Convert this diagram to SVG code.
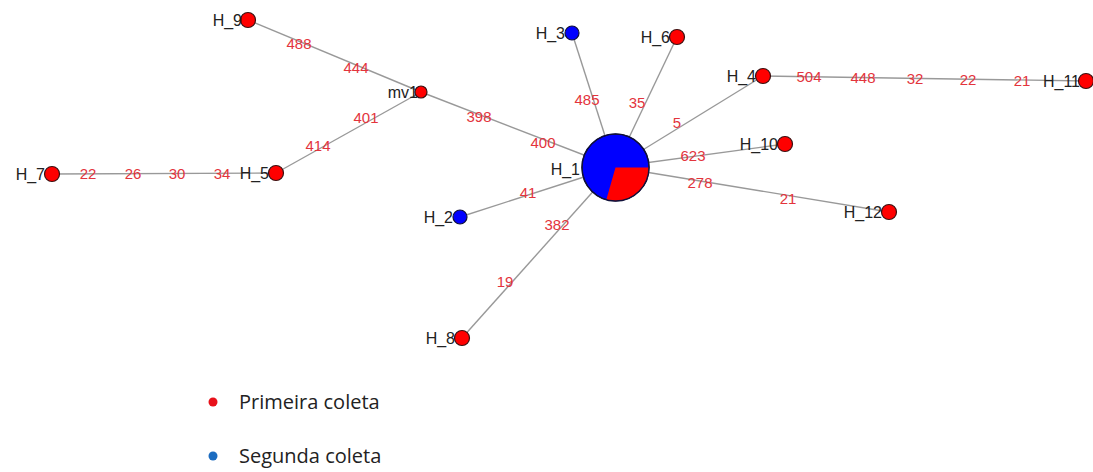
<svg xmlns="http://www.w3.org/2000/svg" width="1093" height="472" viewBox="0 0 1093 472">
<style>
.e{stroke:#999;stroke-width:1.4;fill:none}
.r{fill:#f00;stroke:#3a1010;stroke-width:1.2}
.b{fill:#00f;stroke:#10103a;stroke-width:1.2}
.nl{font-family:"Liberation Sans",Arial,sans-serif;font-size:16px;fill:#222;text-anchor:end}
.el{font-family:"Liberation Sans",Arial,sans-serif;font-size:15px;fill:#e3343c;text-anchor:middle}
.lg{font-family:"Open Sans","Liberation Sans",sans-serif;font-size:20px;fill:#222}
</style>
<rect width="1093" height="472" fill="#fff"/>
<g id="connectors">
<line class="e" x1="248" y1="20" x2="421" y2="92"/>
<line class="e" x1="421" y1="92" x2="276" y2="173"/>
<line class="e" x1="276" y1="173" x2="52" y2="174"/>
<line class="e" x1="421" y1="92" x2="615" y2="167"/>
<line class="e" x1="572" y1="33" x2="615" y2="167"/>
<line class="e" x1="677" y1="37" x2="615" y2="167"/>
<line class="e" x1="763" y1="76" x2="615" y2="167"/>
<line class="e" x1="763" y1="76" x2="1087" y2="81"/>
<line class="e" x1="785" y1="144" x2="615" y2="167"/>
<line class="e" x1="889" y1="212" x2="615" y2="167"/>
<line class="e" x1="460" y1="217" x2="615" y2="167"/>
<line class="e" x1="462" y1="338" x2="615" y2="167"/>
</g>
<g id="edge-labels">
<text class="el" x="299" y="49">488</text>
<text class="el" x="356" y="73">444</text>
<text class="el" x="366" y="123">401</text>
<text class="el" x="318" y="151">414</text>
<text class="el" x="88" y="179">22</text>
<text class="el" x="133" y="179">26</text>
<text class="el" x="177" y="179">30</text>
<text class="el" x="222" y="179">34</text>
<text class="el" x="479" y="122">398</text>
<text class="el" x="543" y="148">400</text>
<text class="el" x="587" y="105">485</text>
<text class="el" x="637" y="108">35</text>
<text class="el" x="677" y="128">5</text>
<text class="el" x="693" y="161">623</text>
<text class="el" x="700" y="188">278</text>
<text class="el" x="788" y="204">21</text>
<text class="el" x="809" y="82">504</text>
<text class="el" x="863" y="83">448</text>
<text class="el" x="915" y="84">32</text>
<text class="el" x="968" y="85">22</text>
<text class="el" x="1022" y="86">21</text>
<text class="el" x="528" y="198">41</text>
<text class="el" x="557" y="230">382</text>
<text class="el" x="505" y="287">19</text>
</g>
<g id="H_1">
<circle class="b" cx="615.5" cy="167.5" r="33.5"/>
<path d="M615.5,167.5 L649,167.5 A33.5,33.5 0 0 1 606.3,199.7 Z" fill="#f00"/>
<circle cx="615.5" cy="167.5" r="33.5" fill="none" stroke="#10103a" stroke-width="1.4"/>
<text class="nl" x="580" y="175">H_1</text>
</g>
<g id="mv1"><circle class="r" cx="421" cy="92" r="6"/><text class="nl" x="418" y="98">mv1</text></g>
<g id="H_9"><circle class="r" cx="248" cy="20" r="7.5"/><text class="nl" x="242" y="26">H_9</text></g>
<g id="H_5"><circle class="r" cx="276" cy="173" r="7.5"/><text class="nl" x="269" y="179">H_5</text></g>
<g id="H_7"><circle class="r" cx="52" cy="174" r="7.5"/><text class="nl" x="45" y="180">H_7</text></g>
<g id="H_3"><circle class="b" cx="572" cy="33" r="7"/><text class="nl" x="565" y="39">H_3</text></g>
<g id="H_6"><circle class="r" cx="677" cy="37" r="7.5"/><text class="nl" x="670" y="43">H_6</text></g>
<g id="H_4"><circle class="r" cx="763" cy="76" r="7.5"/><text class="nl" x="756" y="82">H_4</text></g>
<g id="H_11"><circle class="r" cx="1086" cy="81" r="7.5"/><text class="nl" x="1080" y="87">H_11</text></g>
<g id="H_10"><circle class="r" cx="785" cy="144" r="7.5"/><text class="nl" x="778" y="150">H_10</text></g>
<g id="H_12"><circle class="r" cx="889" cy="212" r="7.5"/><text class="nl" x="882" y="218">H_12</text></g>
<g id="H_2"><circle class="b" cx="460" cy="217" r="7"/><text class="nl" x="453" y="223">H_2</text></g>
<g id="H_8"><circle class="r" cx="462" cy="338" r="7.5"/><text class="nl" x="455" y="344">H_8</text></g>
<g id="legend">
<circle cx="213" cy="402" r="4.5" fill="#e8111a"/>
<text class="lg" x="239" y="409">Primeira coleta</text>
<circle cx="213" cy="456" r="4.5" fill="#1c6cc0"/>
<text class="lg" x="239" y="463">Segunda coleta</text>
</g>
</svg>
